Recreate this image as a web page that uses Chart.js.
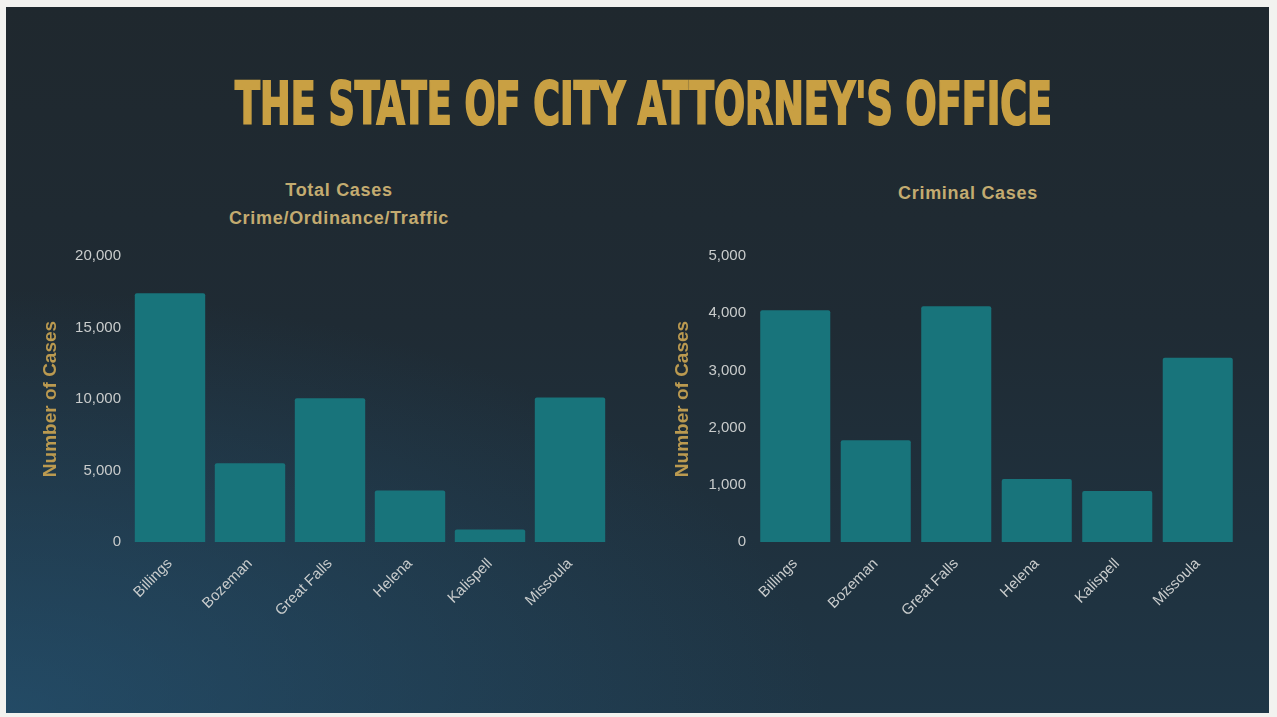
<!DOCTYPE html>
<html>
<head>
<meta charset="utf-8">
<script src="https://cdn.jsdelivr.net/npm/chart.js@4.4.1/dist/chart.umd.min.js"></script>
<style>
html, body { margin: 0; padding: 0; width: 1277px; height: 717px; overflow: hidden; background: #f2f2ef; }
#slide {
    position: absolute; left: 6px; top: 7px; width: 1263px; height: 706px;
    background:
        radial-gradient(ellipse 65% 60% at 0% 100%, rgba(38, 88, 122, 0.6), rgba(38, 88, 122, 0) 100%),
        linear-gradient(180deg, #1f282e 0%, #1f2b34 45%, #1f3646 100%);
}
#heading {
    position: absolute; left: 5px; top: 75px; width: 1277px; text-align: center;
    font-family: "Liberation Sans Narrow", "DejaVu Sans Condensed", sans-serif;
    font-weight: bold; font-size: 58px; line-height: 1; color: #c9a043;
    -webkit-text-stroke: 2px #c9a043;
    white-space: nowrap;
}
#heading span { display: inline-block; transform-origin: center; }
.sub {
    position: absolute; text-align: center; color: #c3ab70;
    font-family: "Liberation Sans", Arial, sans-serif; font-weight: bold; font-size: 18px;
    letter-spacing: 0.7px; line-height: 28px;
}
.box { position: absolute; }
</style>
</head>
<body>
<div id="slide"></div>
<div id="heading"><span id="headText">THE STATE OF CITY ATTORNEY'S OFFICE</span></div>
<div class="sub" style="left:189px; top:176px; width:300px;">Total Cases<br>Crime/Ordinance/Traffic</div>
<div class="sub" style="left:818px; top:179px; width:300px;">Criminal Cases</div>
<div class="box" style="left:20px; top:240px; width:620px; height:400px;"><canvas id="totalChart"></canvas></div>
<div class="box" style="left:652px; top:240px; width:613px; height:400px;"><canvas id="criminalChart"></canvas></div>
<script>
// squeeze the heading to the width it has on the slide
const headText = document.getElementById('headText');
const headScale = 817 / headText.getBoundingClientRect().width;
headText.style.transform = 'scaleX(' + headScale + ')';

const cities = ['Billings', 'Bozeman', 'Great Falls', 'Helena', 'Kalispell', 'Missoula'];
const totalCases = [17400, 5500, 10050, 3600, 870, 10100];
const criminalCases = [4050, 1780, 4120, 1100, 890, 3220];

const barColor = '#18747b';
const tickColor = '#c9cccc';
const axisTitleColor = '#bb9a50';

function makeOptions(maxY, step, yWidth, padRight) {
    return {
        responsive: true,
        maintainAspectRatio: false,
        animation: false,
        layout: { padding: { top: 16, right: padRight, left: 0, bottom: 0 } },
        plugins: { legend: { display: false }, tooltip: { enabled: false } },
        scales: {
            x: {
                grid: { display: false },
                border: { display: false },
                ticks: {
                    color: tickColor,
                    font: { family: 'Liberation Sans', size: 15 },
                    minRotation: 45,
                    maxRotation: 45,
                    padding: 5
                },
                afterFit: function(scale) { scale.height = 98; }
            },
            y: {
                min: 0,
                max: maxY,
                grid: { display: false },
                border: { display: false },
                ticks: {
                    stepSize: step,
                    color: tickColor,
                    font: { family: 'Liberation Sans', size: 15 },
                    padding: 1,
                    callback: function(value) { return value.toLocaleString('en-US'); }
                },
                title: {
                    display: true,
                    text: 'Number of Cases',
                    color: axisTitleColor,
                    font: { family: 'Liberation Sans', size: 19, weight: 'bold' },
                    padding: { top: 19, bottom: 0 }
                },
                afterFit: function(scale) { scale.width = yWidth; }
            }
        }
    };
}

new Chart(document.getElementById('totalChart'), {
    type: 'bar',
    data: {
        labels: cities,
        datasets: [{
            label: 'Total Cases',
            data: totalCases,
            backgroundColor: barColor,
            borderRadius: 2,
            borderSkipped: 'bottom',
            categoryPercentage: 1,
            barPercentage: 0.88
        }]
    },
    options: makeOptions(20000, 5000, 110, 30)
});

new Chart(document.getElementById('criminalChart'), {
    type: 'bar',
    data: {
        labels: cities,
        datasets: [{
            label: 'Criminal Cases',
            data: criminalCases,
            backgroundColor: barColor,
            borderRadius: 2,
            borderSkipped: 'bottom',
            categoryPercentage: 1,
            barPercentage: 0.87
        }]
    },
    options: makeOptions(5000, 1000, 103, 27)
});
</script>
</body>
</html>
